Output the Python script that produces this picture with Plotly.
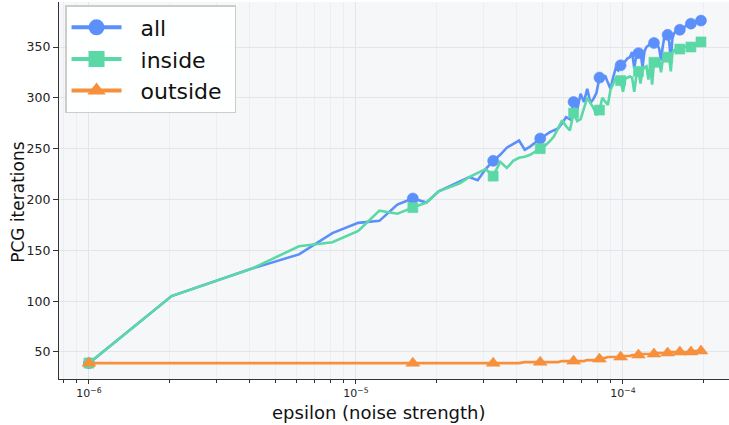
import plotly.graph_objects as go

# epsilon values in units of 1e-6
eps_micro = [1.0, 2.04, 4.08, 6.12, 8.16, 10.20, 12.24, 14.29, 16.33, 18.37,
             20.41, 22.45, 24.49, 26.53, 28.57, 30.61, 32.65, 34.69, 36.73, 38.78,
             40.82, 42.86, 44.90, 46.94, 48.98, 51.02, 53.06, 55.10, 57.14, 59.18,
             61.22, 63.27, 65.31, 67.35, 69.39, 71.43, 73.47, 75.51, 77.55, 79.59,
             81.63, 83.67, 85.71, 87.76, 89.80, 91.84, 93.88, 95.92, 97.96, 100.00,
             102.04, 104.08, 106.12, 108.16, 110.20, 112.24, 114.29, 116.33, 118.37, 120.41,
             122.45, 124.49, 126.53, 128.57, 130.61, 132.65, 134.69, 136.73, 138.78, 140.82,
             142.86, 144.90, 146.94, 148.98, 151.02, 153.06, 155.10, 157.14, 159.18, 161.22,
             163.27, 165.31, 167.35, 169.39, 171.43, 173.47, 175.51, 177.55, 179.59, 181.63,
             183.67, 185.71, 187.76, 189.80, 191.84, 193.88, 195.92, 197.96, 200.00]

all_iters = [39, 105, 132, 146, 167, 177, 179, 195, 201, 197,
             208, 213, 217, 222, 219, 230, 238, 244, 251, 255,
             258, 249, 252, 256, 260, 263, 266, 268, 270, 275,
             281, 279, 296, 288, 304, 296, 309, 295, 299, 305,
             320, 317, 322, 315, 309, 320, 329, 327, 332, 335,
             336, 339, 340, 345, 329, 342, 344, 345, 330, 346,
             350, 352, 353, 352, 354, 353, 352, 348, 337, 350,
             360, 361, 362, 355, 337, 358, 363, 365, 366, 366,
             367, 368, 369, 369, 371, 372, 371, 372, 373, 372,
             373, 373, 374, 374, 375, 376, 376, 375, 377]

inside_iters = [39, 105, 132, 154, 158, 169, 189, 186, 192, 197,
                208, 212, 216, 222, 226, 230, 223, 237, 231, 238,
                241, 242, 244, 247, 250, 253, 257, 262, 270, 278,
                272, 268, 285, 277, 279, 290, 300, 295, 290, 283,
                288, 300, 297, 293, 308, 314, 319, 318, 317, 306,
                319, 320, 321, 320, 306, 322, 326, 314, 327, 330,
                331, 318, 333, 313, 335, 336, 336, 337, 325, 337,
                339, 340, 340, 339, 326, 344, 347, 347, 348, 348,
                348, 349, 349, 350, 350, 350, 350, 350, 350, 351,
                351, 352, 352, 353, 354, 354, 355, 355, 355]

outside_iters = [39] * 21 + [40] * 8 + [41] * 7 + [42] * 4 + [43] + [44] * 2 + \
                [45] * 6 + [46] * 4 + [47] * 4 + [48] * 8 + [49] * 8 + [50] * 16 + \
                [51] * 8 + [52] * 2

series_names = ["all", "inside", "outside"]
series_values = [all_iters, inside_iters, outside_iters]
colors = ["#5B8FF9", "#5AD8A6", "#F6903D"]
symbols = ["circle", "square", "triangle-up"]
msizes = [11, 10, 12]

x_title = "epsilon (noise strength)"
y_title = "PCG iterations"

eps = [v * 1e-6 for v in eps_micro]
MARK_EVERY = 8

fig = go.Figure()
for name, vals, col, sym, ms in zip(series_names, series_values, colors, symbols, msizes):
    sizes = [ms if i % MARK_EVERY == 0 else 0 for i in range(len(vals))]
    fig.add_trace(go.Scatter(
        x=eps, y=vals, mode="lines+markers", name=name, showlegend=False,
        line=dict(color=col, width=2.6),
        marker=dict(color=col, symbol=sym, size=sizes, opacity=1,
                    line=dict(width=0.6, color=col)),
    ))
NB = "\u00a0"
for name, col, sym in zip(series_names, colors, symbols):
    fig.add_trace(go.Scatter(
        x=[None], y=[None], mode="lines+markers", name=NB * 2 + name + NB,
        line=dict(color=col, width=4),
        marker=dict(color=col, symbol=sym, size=16, line=dict(width=0)),
    ))

major_vals = [1e-6, 1e-5, 1e-4]
major_text = ["10<sup>−6</sup>", "10<sup>−5</sup>", "10<sup>−4</sup>"]
minor_vals = [m * 10 ** e for e in (-7, -6, -5, -4) for m in range(2, 10)]

fig.update_layout(
    width=729, height=425,
    margin=dict(l=59, r=0, t=2, b=46),
    paper_bgcolor="white",
    plot_bgcolor="#F6F7F9",
    font=dict(family="DejaVu Sans", color="#222222", size=12),
    legend=dict(
        x=0.009, y=0.992, xanchor="left", yanchor="top",
        bgcolor="rgba(255,255,255,0.9)", bordercolor="#CCCCCC", borderwidth=1.5,
        font=dict(size=22, color="#111111"), itemwidth=50, tracegroupgap=0,
    ),
    xaxis=dict(
        type="log", range=[-6.112, -3.603],
        tickvals=major_vals, ticktext=major_text,
        ticks="outside", ticklen=4, tickcolor="#333333", tickwidth=1,
        showline=True, linecolor="#333333", linewidth=1.2,
        showgrid=True, gridcolor="#E3E5EA", gridwidth=1,
        zeroline=False,
        minor=dict(tickvals=minor_vals, ticks="outside", ticklen=2.5, tickcolor="#333333",
                   showgrid=True, gridcolor="#ECEEF1", gridwidth=0.8),
        tickfont=dict(size=11),
    ),
    yaxis=dict(
        range=[23.4, 394.3],
        tickvals=[50, 100, 150, 200, 250, 300, 350],
        ticks="outside", ticklen=5, tickcolor="#333333", tickwidth=1,
        showline=True, linecolor="#333333", linewidth=1.2,
        showgrid=True, gridcolor="#E3E5EA", gridwidth=1,
        zeroline=False,
        tickfont=dict(size=12.5),
    ),
    annotations=[
        dict(text=x_title, xref="paper", yref="paper", x=0.4776, y=-0.089,
             xanchor="center", yanchor="middle", showarrow=False,
             font=dict(size=18, color="#111111")),
        dict(text=y_title, xref="paper", yref="paper", x=-0.0612, y=0.47,
             xanchor="center", yanchor="middle", showarrow=False, textangle=-90,
             font=dict(size=17, color="#111111")),
    ],
)

fig.write_html("out.html")
